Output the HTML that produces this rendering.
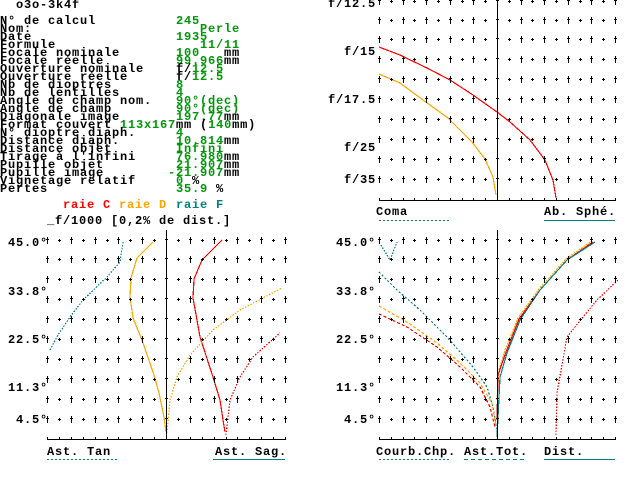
<!DOCTYPE html>
<html><head><meta charset="utf-8"><style>
html,body{margin:0;padding:0;background:#fff;}
body{width:640px;height:480px;position:relative;overflow:hidden;font-family:"Liberation Mono","DejaVu Sans Mono",monospace;font-weight:bold;font-size:12px;}
.t{position:absolute;white-space:pre;line-height:8px;height:8px;letter-spacing:0.8px;color:#000;}
#lines .t{margin-top:1px;}
.g{color:#00960a;}
svg{position:absolute;left:0;top:0;}
</style></head><body>
<div class="t" style="left:16px;top:1px">o3o-3k4f</div>
<div id="lines"></div>
<div class="t" style="left:63px;top:201px;color:#f00">raie C</div>
<div class="t" style="left:119px;top:201px;color:#ffa500">raie D</div>
<div class="t" style="left:176px;top:201px;color:#008080">raie F</div>
<div class="t" style="left:47px;top:217px">_f/1000 [0,2% de dist.]</div>

<div class="t" style="left:328px;top:0px">f/12.5</div>
<div class="t" style="left:344px;top:48px">f/15</div>
<div class="t" style="left:328px;top:96px">f/17.5</div>
<div class="t" style="left:344px;top:144px">f/25</div>
<div class="t" style="left:344px;top:176px">f/35</div>
<div class="t" style="left:376px;top:208px">Coma</div>
<div class="t" style="left:544px;top:208px">Ab. Sphé.</div>

<div class="t" style="left:8px;top:239px">45.0°</div>
<div class="t" style="left:8px;top:288px">33.8°</div>
<div class="t" style="left:8px;top:336px">22.5°</div>
<div class="t" style="left:8px;top:384px">11.3°</div>
<div class="t" style="left:16px;top:416px">4.5°</div>
<div class="t" style="left:47px;top:448px">Ast. Tan</div>
<div class="t" style="left:215px;top:448px">Ast. Sag.</div>

<div class="t" style="left:336px;top:239px">45.0°</div>
<div class="t" style="left:336px;top:288px">33.8°</div>
<div class="t" style="left:336px;top:336px">22.5°</div>
<div class="t" style="left:336px;top:384px">11.3°</div>
<div class="t" style="left:344px;top:416px">4.5°</div>
<div class="t" style="left:376px;top:448px">Courb.Chp.</div>
<div class="t" style="left:464px;top:448px">Ast.Tot.</div>
<div class="t" style="left:544px;top:448px">Dist.</div>

<svg id="s" width="640" height="480" xmlns="http://www.w3.org/2000/svg" shape-rendering="crispEdges">
<g fill="none" stroke-width="1.2">
<polyline stroke="#f00" points="379,47 400,55 427,68 450,80 473,95 497,112 510,122 530,140 545,160 553,180 556,198"/>
<polyline stroke="#ffa500" points="379,74 400,83 423,100 448,118 472,142 485,159 493,177 496,195"/>
<polyline stroke="#008080" stroke-dasharray="1.5,1.5" points="50,350 58,335 70,317 83,300 107,277 120,262 123,242"/>
<polyline stroke="#ffa500" points="166,432 164,417 159,393 154,375 142,340 133,318 130,297 131,278 137,258 153,242"/>
<polyline stroke="#f00" points="225,432 223,420 220,400 213,377 200,337 193,298 194,279 202,260 222,240"/>
<polyline stroke="#ffa500" stroke-dasharray="1.5,1.5" points="167,433 170,400 177,377 190,355 213,330 240,310 282,288"/>
<polyline stroke="#f00" stroke-dasharray="1.5,1.5" points="226,435 230,400 240,377 253,357 280,333"/>
<polyline stroke="#008080" stroke-dasharray="1.5,1.5" points="381,245 390,260 397,242"/>
<polyline stroke="#008080" stroke-dasharray="2,2" points="379,272 397,290 420,310 447,337 473,367 487,387 493,407 497,430"/>
<polyline stroke="#ffa500" stroke-dasharray="3,2" points="379,306 407,322 437,343 460,363 480,383 492,403 496,427"/>
<polyline stroke="#f00" stroke-dasharray="3,2" points="379,314 407,327 437,347 460,367 480,387 490,407 495,427"/>
<polyline stroke="#ffa500" stroke-dasharray="2,1" points="497,400 499,370 505,350 518,318 539,289 566,259 592,241"/>
<polyline stroke="#f00" points="497,420 498,375 506,352 519,319 540,290 567,260 593,242"/>
<polyline stroke="#008080" points="497,437 500,377 507,353 520,320 540,290 567,260 595,242"/>
<polyline stroke="#f00" stroke-dasharray="1.5,1.5" points="556,435 557,393 567,337 583,317 597,300 618,280"/>
</g>
<g stroke="#008080" stroke-width="1">
<line x1="379" y1="220.5" x2="449" y2="220.5" stroke-dasharray="2,2"/>
<line x1="544" y1="220.5" x2="615" y2="220.5"/>
<line x1="47" y1="459.5" x2="117" y2="459.5" stroke-dasharray="2,2"/>
<line x1="213" y1="459.5" x2="285" y2="459.5"/>
<line x1="379" y1="459.5" x2="449" y2="459.5" stroke-dasharray="2,2"/>
<line x1="464" y1="459.5" x2="527" y2="459.5" stroke-dasharray="4,3"/>
<line x1="544" y1="459.5" x2="615" y2="459.5"/>
</g>
<g id="grid" stroke="#000" stroke-width="1"></g>
</svg>
<script>
(function(){
var data=[
["N° de calcul",[["245","g"]]],
["Nom:",[["   Perle","g"]]],
["Date",[["1935","g"]]],
["Formule",[["   11/11","g"]]],
["Focale nominale",[["100","g"],["   mm",""]]],
["Focale réelle",[["99.966","g"],["mm",""]]],
["Ouverture nominale",[["f/",""],["12.5","g"]]],
["Ouverture réelle",[["f/",""],["12.5","g"]]],
["Nb de dioptres",[["8","g"]]],
["Nb de lentilles",[["4","g"]]],
["Angle de champ nom.",[["90°(dec)","g"]]],
["Angle de champ",[["90°(dec)","g"]]],
["Diagonale image",[["197.77","g"],["mm",""]]],
null,
["N° dioptre diaph.",[["4","g"]]],
["Distance diaph.",[["10.814","g"],["mm",""]]],
["Distance objet",[["Infini","g"]]],
["Tirage à l'infini",[["76.980","g"],["mm",""]]],
["Pupille objet",[["21.907","g"],["mm",""]]],
["Pupille image",[["-21.907","g"],["mm",""]],168],
["Vignetage relatif",[["0","g"],[" %",""]]],
["Pertes",[["35.9","g"],[" %",""]]]];
var h="";
for(var i=0;i<data.length;i++){
 var yy=16+8*i;
 var d=data[i];
 if(!d){h+='<div class="t" style="left:0;top:'+yy+'px">Format couvert <span class="g">113x167</span>mm (<span class="g">140</span>mm)</div>';continue;}
 h+='<div class="t" style="left:0;top:'+yy+'px">'+d[0]+'</div>';
 var s='';d[1].forEach(function(p){s+='<span class="'+p[1]+'">'+p[0]+'</span>';});
 h+='<div class="t" style="left:'+(d[2]||176)+'px;top:'+yy+'px">'+s+'</div>';
}
document.getElementById('lines').innerHTML=h;
var NS="http://www.w3.org/2000/svg";
var g=document.getElementById('grid');
function L(x1,y1,x2,y2){var e=document.createElementNS(NS,'line');e.setAttribute('x1',x1);e.setAttribute('y1',y1);e.setAttribute('x2',x2);e.setAttribute('y2',y2);g.appendChild(e);}
function grid(x0,x1,cx,ys,yb){
 var n=20,st=(x1-x0)/n;
 for(var r=0;r<ys.length;r++){var y=ys[r];
  for(var c=0;c<=n;c++){var x=Math.round(x0+c*st)+0.5;
   if(c%2==0){L(x,y-3,x,y+4);L(x-1.5,y-0.5,x+1.5,y-0.5);}
   else{L(x,y-1,x,y+2);L(x-1.5,y+0.5,x+1.5,y+0.5);}
  }}
 L(x0,yb+0.5,x1+1,yb+0.5);
 for(var c=0;c<=n;c++){var x=Math.round(x0+c*st)+0.5;L(x,yb-2,x,yb);}
 L(cx+0.5,ys[0]-10,cx+0.5,yb);
}
grid(379,615,497,[1,20,39,59,79,99,119,139,159,179],200);
var yb=[240,259,279,299,319,339,359,379,399,419];
grid(47,285,166,yb,439);
grid(379,615,497,yb,439);
})();
</script>
</body></html>
